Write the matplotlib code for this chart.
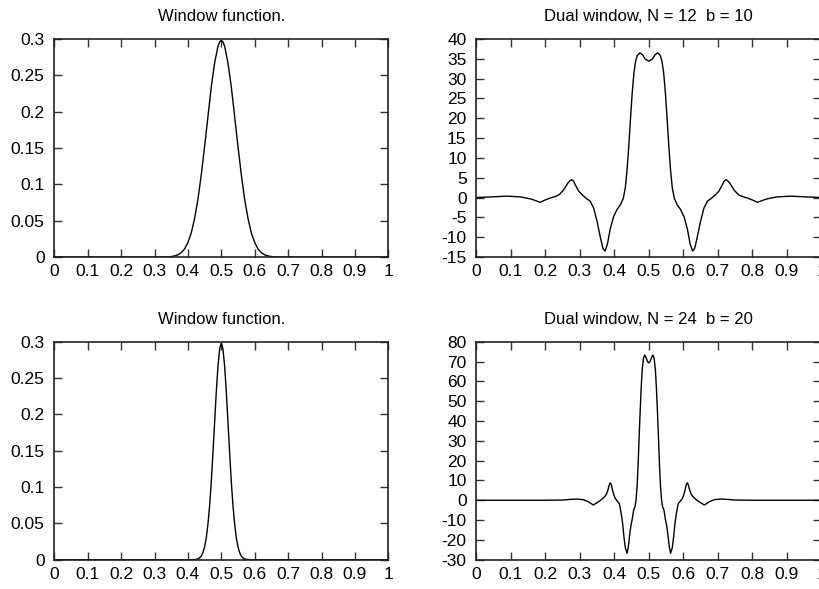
import matplotlib
matplotlib.use("Agg")
import matplotlib.pyplot as plt
from matplotlib.ticker import MultipleLocator, FuncFormatter

# ===== data =====
# window function, N = 12
win12_x = [0.0, 0.32, 0.33, 0.34, 0.35, 0.36, 0.37, 0.38, 0.39, 0.40, 0.41, 0.42,
           0.43, 0.44, 0.45, 0.46, 0.47, 0.48, 0.49, 0.495, 0.50, 0.505, 0.51, 0.52,
           0.53, 0.54, 0.55, 0.56, 0.57, 0.58, 0.59, 0.60, 0.61, 0.62, 0.63, 0.64,
           0.65, 0.66, 0.67, 0.68, 1.0]
win12_y = [0.0, 0.0, 0.0001, 0.0002, 0.0006, 0.0015, 0.003, 0.006, 0.011, 0.020,
           0.033, 0.053, 0.079, 0.113, 0.152, 0.193, 0.234, 0.267, 0.290, 0.296,
           0.298, 0.296, 0.290, 0.267, 0.234, 0.193, 0.152, 0.113, 0.079, 0.053,
           0.033, 0.020, 0.011, 0.006, 0.003, 0.0015, 0.0006, 0.0002, 0.0001, 0.0,
           0.0]

# window function, N = 24
win24_x = [0.0, 0.41, 0.415, 0.42, 0.425, 0.43, 0.435, 0.44, 0.445, 0.45, 0.455,
           0.46, 0.465, 0.47, 0.475, 0.48, 0.485, 0.49, 0.495, 0.50, 0.505, 0.51,
           0.515, 0.52, 0.525, 0.53, 0.535, 0.54, 0.545, 0.55, 0.555, 0.56, 0.565,
           0.57, 0.575, 0.58, 0.585, 0.59, 1.0]
win24_y = [0.0, 0.0, 0.0001, 0.0002, 0.0005, 0.0011, 0.0025, 0.0050, 0.0097, 0.0175,
           0.030, 0.049, 0.074, 0.107, 0.147, 0.189, 0.231, 0.266, 0.290, 0.298,
           0.290, 0.266, 0.231, 0.189, 0.147, 0.107, 0.074, 0.049, 0.030, 0.0175,
           0.0097, 0.0050, 0.0025, 0.0011, 0.0005, 0.0002, 0.0001, 0.0, 0.0]

# dual window, N = 12  b = 10
dual12_x = [0.00, 0.04, 0.09, 0.13, 0.16, 0.185, 0.20, 0.215, 0.23, 0.24, 0.252,
            0.265, 0.271, 0.2765, 0.282, 0.287, 0.297, 0.308, 0.32, 0.33, 0.34,
            0.35, 0.36, 0.367, 0.373, 0.38, 0.388, 0.398, 0.408, 0.418, 0.426,
            0.432, 0.437, 0.442, 0.447, 0.452, 0.457, 0.462, 0.467, 0.4745, 0.482,
            0.489, 0.5,
            0.511, 0.518, 0.5255, 0.533, 0.538, 0.543, 0.548, 0.553, 0.558, 0.563,
            0.568, 0.574, 0.582, 0.592, 0.602, 0.612, 0.62, 0.627, 0.633, 0.64,
            0.65, 0.66, 0.67, 0.68, 0.692, 0.703, 0.713, 0.718, 0.7235, 0.729,
            0.735, 0.748, 0.76, 0.77, 0.785, 0.80, 0.815, 0.84, 0.87, 0.91, 0.96,
            1.00]
dual12_y = [0.0, 0.15, 0.35, 0.15, -0.4, -1.2, -0.6, -0.1, 0.3, 0.7, 1.8,
            3.6, 4.2, 4.5, 4.1, 3.2, 1.6, 0.6, -0.3, -0.9, -2.6,
            -6.0, -10.2, -12.8, -13.5, -11.8, -8.0, -4.8, -3.0, -1.8, -0.2,
            2.5, 7.0, 13.0, 20.0, 26.5, 31.5, 34.5, 35.9, 36.5, 36.0,
            35.0, 34.4,
            35.0, 36.0, 36.5, 35.9, 34.5, 31.5, 26.5, 20.0, 13.0, 7.0,
            2.5, -0.2, -1.8, -3.0, -4.8, -8.0, -11.8, -13.5, -12.8, -10.2,
            -6.0, -2.6, -0.9, -0.3, 0.6, 1.6, 3.2, 4.1, 4.5, 4.2,
            3.6, 1.8, 0.7, 0.3, -0.1, -0.6, -1.2, -0.4, 0.15, 0.35, 0.15,
            0.0]

# dual window, N = 24  b = 20
dual24_x = [0.0, 0.20, 0.25, 0.27, 0.291, 0.31, 0.325, 0.339, 0.35, 0.359, 0.366,
            0.372, 0.377, 0.3815, 0.385, 0.388, 0.391, 0.395, 0.399, 0.403, 0.408,
            0.4145, 0.420, 0.424, 0.428, 0.432, 0.437, 0.441, 0.4445, 0.448, 0.452,
            0.456, 0.460, 0.463, 0.466, 0.469, 0.472, 0.475, 0.478, 0.481, 0.4845,
            0.488, 0.491, 0.494, 0.497, 0.5,
            0.503, 0.506, 0.509, 0.512, 0.5155, 0.519, 0.522, 0.525, 0.528, 0.531,
            0.534, 0.537, 0.540, 0.544, 0.548, 0.552, 0.5555, 0.559, 0.563, 0.568,
            0.572, 0.576, 0.580, 0.5855, 0.592, 0.597, 0.601, 0.605, 0.609, 0.612,
            0.615, 0.6185, 0.623, 0.628, 0.634, 0.641, 0.65, 0.661, 0.675, 0.69,
            0.709, 0.73, 0.75, 0.80, 1.0]
dual24_y = [0.0, 0.0, 0.1, 0.4, 0.6, 0.3, -0.8, -2.4, -1.2, -0.2, 0.8,
            1.8, 3.0, 5.1, 7.5, 8.8, 8.0, 5.1, 2.5, 0.9, -0.3,
            -1.6, -6.6, -11.5, -18.5, -24.0, -26.8, -23.0, -17.5, -13.0, -9.5,
            -5.0, -3.3, 0.0, 6.8, 18.0, 32.0, 45.0, 57.0, 66.0, 71.5,
            73.3, 72.5, 71.0, 69.8, 69.3,
            69.8, 71.0, 72.5, 73.3, 71.5, 66.0, 57.0, 45.0, 32.0, 18.0,
            6.8, 0.0, -3.3, -5.0, -9.5, -13.0, -17.5, -23.0, -26.8, -24.0,
            -18.5, -11.5, -6.6, -1.6, -0.3, 0.9, 2.5, 5.1, 8.0, 8.8,
            7.5, 5.1, 3.0, 1.8, 0.8, -0.2, -1.2, -2.4, -0.8, 0.3,
            0.6, 0.4, 0.1, 0.0, 0.0]

titles = ["Window function.", "Dual window, N = 12  b = 10",
          "Window function.", "Dual window, N = 24  b = 20"]

# ===== figure =====
plt.rcParams["font.family"] = ["Liberation Sans", "DejaVu Sans"]
plt.rcParams["axes.unicode_minus"] = False

fig = plt.figure(figsize=(8.19, 5.89), dpi=100)
W, H = 819, 589


def box(left, top, right, bottom):
    # pixel box -> figure fraction
    return [left / W, 1 - bottom / H, (right - left) / W, (bottom - top) / H]


# right-hand panels run just past the figure edge, as in the reference
panels = [
    (box(54.3, 39, 388.3, 257), win12_x, win12_y, (0, 0.3), 0.05),
    (box(476.3, 39, 821.3, 257), dual12_x, dual12_y, (-15, 40), 5),
    (box(54.3, 341.7, 388.3, 559.7), win24_x, win24_y, (0, 0.3), 0.05),
    (box(476.3, 341.7, 821.3, 559.7), dual24_x, dual24_y, (-30, 80), 10),
]

fmt = FuncFormatter(lambda v, _: f"{v:g}")
for (rect, xs, ys, ylim, ystep), title in zip(panels, titles):
    ax = fig.add_axes(rect)
    ax.plot(xs, ys, color="black", lw=1.0)
    ax.set_xlim(0, 1)
    ax.set_ylim(*ylim)
    ax.xaxis.set_major_locator(MultipleLocator(0.1))
    ax.yaxis.set_major_locator(MultipleLocator(ystep))
    ax.xaxis.set_major_formatter(fmt)
    ax.yaxis.set_major_formatter(fmt)
    ax.tick_params(direction="in", top=True, right=True, length=6, width=1,
                   labelsize=12.5, color="#333333")
    ax.tick_params(axis="x", pad=5)
    ax.tick_params(axis="y", pad=7)
    for sp in ax.spines.values():
        sp.set_linewidth(1.2)
        sp.set_color("#222222")
    ax.set_title(title, fontsize=12, pad=13)

fig.savefig("out.png", dpi=100)
